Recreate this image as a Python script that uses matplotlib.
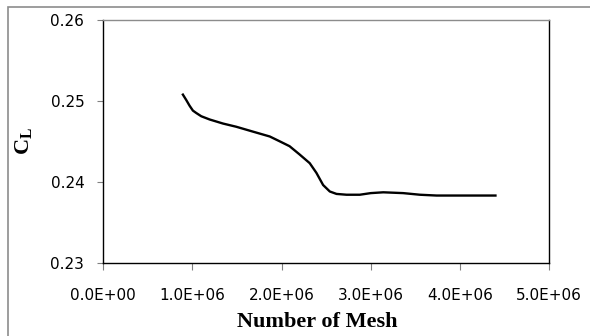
# メッシュ数に対する揚力係数のグラフ

import matplotlib
matplotlib.use("Agg")
import matplotlib.pyplot as plt
from matplotlib.patches import Rectangle


# 図から読み取った値
MESH_NUM = [0.888e6, 0.933e6, 0.970e6, 1.007e6, 1.045e6, 1.101e6, 1.195e6,
            1.344e6, 1.494e6, 1.680e6, 1.868e6, 1.980e6, 2.090e6, 2.200e6,
            2.316e6, 2.391e6, 2.466e6, 2.541e6, 2.616e6, 2.728e6, 2.877e6,
            3.000e6, 3.140e6, 3.363e6, 3.550e6, 3.737e6, 4.410e6]
CL = [0.2509, 0.2501, 0.2494, 0.2488, 0.2485, 0.2481, 0.2477,
      0.2472, 0.2468, 0.2462, 0.2456, 0.2450, 0.2444, 0.2434,
      0.2423, 0.2411, 0.2396, 0.2388, 0.2385, 0.2384, 0.2384,
      0.2386, 0.2387, 0.2386, 0.2384, 0.2383, 0.2383]

X_TICKS = [0, 1e6, 2e6, 3e6, 4e6, 5e6]
X_TICK_LABELS = ["0.0E+00", "1.0E+06", "2.0E+06", "3.0E+06", "4.0E+06", "5.0E+06"]
Y_TICKS = [0.23, 0.24, 0.25, 0.26]
Y_TICK_LABELS = ["0.23", "0.24", "0.25", "0.26"]

FILE_NAME = "out.png"


def main():
    plt.rcParams["mathtext.fontset"] = "custom"
    plt.rcParams["mathtext.rm"] = "Liberation Serif"
    plt.rcParams["mathtext.bf"] = "Liberation Serif:bold"

    fig = plt.figure(figsize=(5.9, 3.36), dpi=100)
    ax = fig.add_axes([0.1746, 0.2182, 0.931 - 0.1746, 0.9405 - 0.2182])

    # 外枠 (右と下は画像の外まで)
    fig.patches.append(Rectangle((8 / 590, -0.2), 1.5, 1.2 - 7.3 / 336,
                                 transform=fig.transFigure, fill=False,
                                 edgecolor="#8c8c8c", linewidth=1.2))

    ax.plot(MESH_NUM, CL, color="black", linewidth=1.7,
            solid_joinstyle="round", solid_capstyle="butt")

    ax.set_xlim(0, 5e6)
    ax.set_ylim(0.23, 0.26)
    ax.set_xticks(X_TICKS)
    ax.set_xticklabels(X_TICK_LABELS)
    ax.set_yticks(Y_TICKS)
    ax.set_yticklabels(Y_TICK_LABELS)

    ax.tick_params(axis="x", direction="out", length=5, width=0.8,
                   color="#808080", pad=13, labelsize=11)
    ax.tick_params(axis="y", direction="out", length=4.5, width=0.8,
                   color="#808080", pad=9, labelsize=11)

    for side in ["left", "bottom", "right"]:
        ax.spines[side].set_color("black")
        ax.spines[side].set_linewidth(1.0)
    ax.spines["top"].set_color("#8c8c8c")
    ax.spines["top"].set_linewidth(1.0)

    fig.text(317 / 590, 1 - 322 / 336, "Number of Mesh", ha="center", va="center",
             family="Liberation Serif", fontweight="bold", fontsize=16)
    fig.text(24 / 590, 1 - 141 / 336, r"$\mathbf{C_L}$", ha="center", va="center",
             rotation=90, fontsize=16)

    # ファイル保存
    fig.savefig(FILE_NAME, dpi=100)


if __name__ == "__main__":
    main()
